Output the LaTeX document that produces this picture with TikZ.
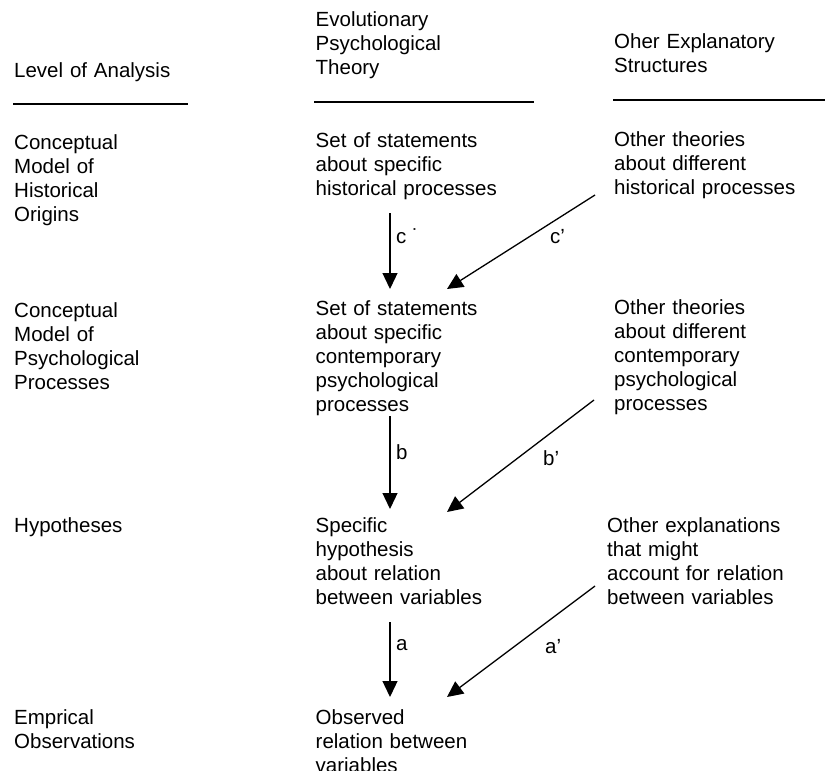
\documentclass[tikz,border=0pt]{standalone}
\usepackage{fontspec}
\setmainfont{Liberation Sans}
\usetikzlibrary{arrows.meta}
\tikzset{
  txt/.style={anchor=base west, inner sep=0pt, text width=260pt, align=left,
    font=\fontsize{20.5}{24}\selectfont},
  lbl/.style={anchor=base west, inner sep=0pt, font=\fontsize{20.5}{24}\selectfont},
  arr/.style={line width=1.3pt, -{Triangle[length=16pt,width=15pt]}},
  rule/.style={line width=1.8pt}
}
\begin{document}
\begin{tikzpicture}[x=1pt,y=-1pt]
\useasboundingbox (0,0) rectangle (825,771);
% headers
\node[txt] (h1) at (14,77) {Level of Analysis};
\node[txt] (h2) at (315.5,27) {Evolutionary\\Psychological\\Theory};
\node[txt] (h3) at (614,48.5) {Oher Explanatory\\Structures};
\draw[rule] (13,104) -- (188,104);
\draw[rule] (314,102) -- (534,102);
\draw[rule] (613,100) -- (825,100);
% row: historical origins
\node[txt] (r1c1) at (14,149) {Conceptual\\Model of\\Historical\\Origins};
\node[txt] (r1c2) at (315.5,147.5) {Set of statements\\about specific\\historical processes};
\node[txt] (r1c3) at (614,146) {Other theories\\about different\\historical processes};
% row: psychological processes
\node[txt] (r2c1) at (14,317) {Conceptual\\Model of\\Psychological\\Processes};
\node[txt] (r2c2) at (315.5,315.5) {Set of statements\\about specific\\contemporary\\psychological\\processes};
\node[txt] (r2c3) at (614,314) {Other theories\\about different\\contemporary\\psychological\\processes};
% row: hypotheses
\node[txt] (r3c1) at (14,532) {Hypotheses};
\node[txt] (r3c2) at (315.5,532) {Specific\\hypothesis\\about relation\\between variables};
\node[txt] (r3c3) at (607,532) {Other explanations\\that might\\account for relation\\between variables};
% row: observations
\node[txt] (r4c1) at (14,724.5) {Emprical\\Observations};
\node[txt] (r4c2) at (315.5,724) {Observed\\relation between\\variables};
% arrow end points
\coordinate (cS) at (390,213);   \coordinate (cE) at (390,289);
\coordinate (cpS) at (595,195);  \coordinate (cpE) at (447,289);
\coordinate (bS) at (390,416);   \coordinate (bE) at (390,509);
\coordinate (bpS) at (594,400);  \coordinate (bpE) at (447,512);
\coordinate (aS) at (390,622);   \coordinate (aE) at (390,697);
\coordinate (apS) at (595,586);  \coordinate (apE) at (447,697);
\draw[arr] (cS) -- (cE);
\draw[arr] (cpS) -- (cpE);
\draw[arr] (bS) -- (bE);
\draw[arr] (bpS) -- (bpE);
\draw[arr] (aS) -- (aE);
\draw[arr] (apS) -- (apE);
% arrow labels
\node[lbl] (lc) at (396,243) {c ˙};
\node[lbl] (lcp) at (550,243) {c’};
\node[lbl] (lb) at (396,459) {b};
\node[lbl] (lbp) at (543,465) {b’};
\node[lbl] (la) at (396,650) {a};
\node[lbl] (lap) at (545,653) {a’};
\end{tikzpicture}
\end{document}
